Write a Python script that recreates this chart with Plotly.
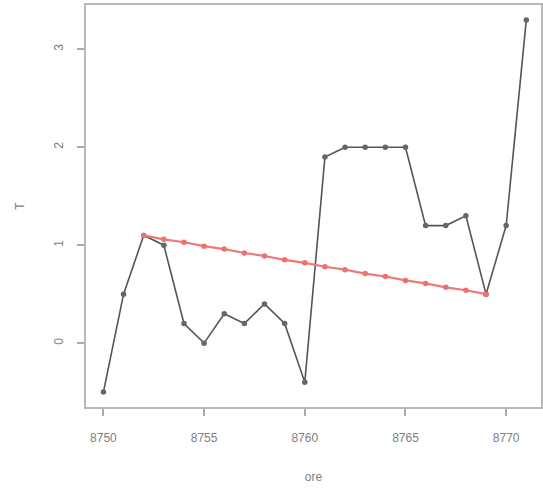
import plotly.graph_objects as go

ore = list(range(8750, 8772))
T = [-0.5, 0.5, 1.1, 1.0, 0.2, 0.0, 0.3, 0.2, 0.4, 0.2, -0.4,
     1.9, 2.0, 2.0, 2.0, 2.0, 1.2, 1.2, 1.3, 0.5, 1.2, 3.3]

trend_x = list(range(8752, 8770))
trend_y = [1.10, 1.06, 1.03, 0.99, 0.96, 0.92, 0.89, 0.85, 0.82, 0.78,
           0.75, 0.71, 0.68, 0.64, 0.61, 0.57, 0.54, 0.50]

x_ticks = [8750, 8755, 8760, 8765, 8770]
y_ticks = [0, 1, 2, 3]

fig = go.Figure()
fig.add_trace(go.Scatter(
    x=ore, y=T, mode="lines+markers",
    line=dict(color="#555555", width=1.6),
    marker=dict(color="#666666", size=5.5, symbol="circle"),
    showlegend=False,
))
fig.add_trace(go.Scatter(
    x=trend_x, y=trend_y, mode="lines+markers",
    line=dict(color="#f07878", width=2.2),
    marker=dict(color="#ee7070", size=5.5, symbol="circle"),
    showlegend=False,
))

axis_common = dict(
    showline=True, linecolor="#b8b8b8", linewidth=2, mirror=True,
    ticks="outside", ticklen=7, tickcolor="#aaaaaa", tickwidth=1.5,
    showgrid=False, zeroline=False,
    tickfont=dict(family="Liberation Sans, Arial", size=12, color="#808080"),
)

fig.update_layout(
    width=543, height=489,
    margin=dict(l=86, r=0, t=5, b=82),
    paper_bgcolor="white", plot_bgcolor="white",
    xaxis=dict(range=[8749.135, 8771.73], tickvals=x_ticks,
               ticktext=[str(v) for v in x_ticks],
               ticklabelstandoff=12,
               title=dict(text="ore", standoff=28,
                          font=dict(family="Liberation Sans, Arial", size=12, color="#808080")),
               **axis_common),
    yaxis=dict(range=[-0.652, 3.452], tickvals=y_ticks,
               ticktext=[str(v) for v in y_ticks], tickangle=-90,
               ticklabelstandoff=9,
               title=dict(text="T", standoff=25,
                          font=dict(family="Liberation Sans, Arial", size=12, color="#808080")),
               **axis_common),
)

fig.write_html("out.html", config={"displayModeBar": False},
               post_script="document.body.style.margin='0';")
